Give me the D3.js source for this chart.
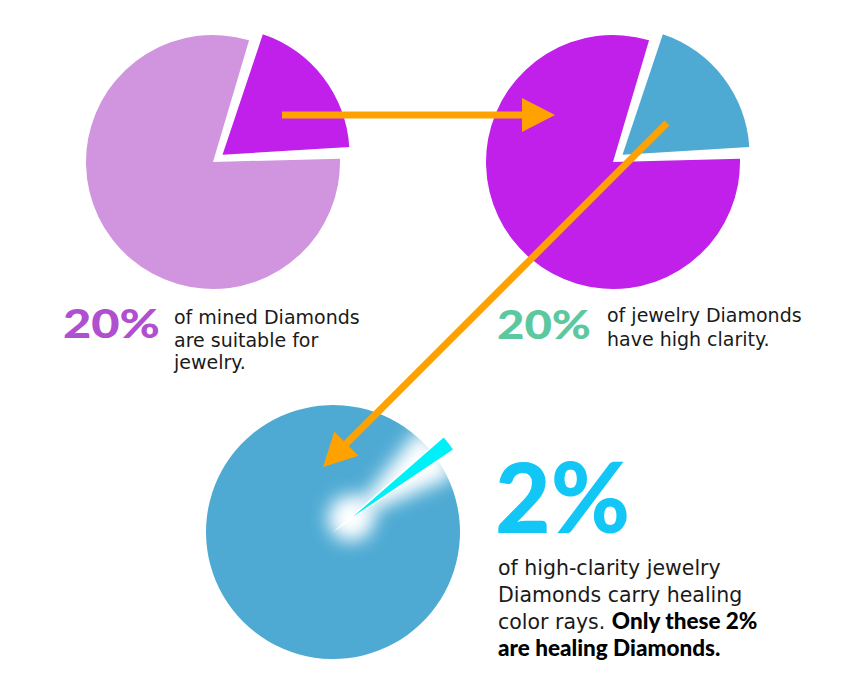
<!DOCTYPE html>
<html>
<head>
<meta charset="utf-8">
<script src="https://cdn.jsdelivr.net/npm/d3@7"></script>
<style>
  body { margin: 0; background: #fff; }
</style>
</head>
<body>
<div id="chart"></div>
<script>
// Share of each stage (percent), shown as the cut-out slice
var shares = [20, 20, 2]
var bigLabels = ['20%', '20%', '2%']
var restColors = ['#d194df', '#c020ea', '#4eaad3']
var shareColors = ['#c020ea', '#4eaad3', '#00f0f8']
var labelColors = ['#b04fd0', '#5cc8a0', '#12c6f6']

// caption lines, each a list of [text, bold]
var captions = [
  [[['of mined Diamonds', false]], [['are suitable for', false]], [['jewelry.', false]]],
  [[['of jewelry Diamonds', false]], [['have high clarity.', false]]],
  [
    [['of high-clarity jewelry', false]],
    [['Diamonds carry healing', false]],
    [['color rays. ', false], ['Only these 2%', true]],
    [['are healing Diamonds.', true]]
  ]
]

// Set window height + width
var width = 850
var height = 700
var radius = 127
var midAngle = 52.5 * Math.PI / 180

// layout of each panel
var panels = [
  { cx: 213, cy: 162, explode: 12, bigX: 63, bigY: 338, bigSize: 40, bigLen: 97, capX: 174, capY: 324, capSize: 19, lead: 22.5 },
  { cx: 613, cy: 162, explode: 12, bigX: 497, bigY: 339, bigSize: 40, bigLen: 94, capX: 607, capY: 322, capSize: 19, lead: 24 },
  { cx: 333, cy: 532, explode: 25, bigX: 495, bigY: 533, bigSize: 98, bigLen: 135, capX: 498, capY: 575, capSize: 20.5, lead: 27 }
]

var svg = d3.select('#chart')
  .append('svg')
  .attr('width', width)
  .attr('height', height)

var defs = svg.append('defs')
defs.append('filter')
  .attr('id', 'glow')
  .attr('x', '-50%').attr('y', '-50%')
  .attr('width', '200%').attr('height', '200%')
  .append('feGaussianBlur')
  .attr('stdDeviation', 9)

var arc = d3.arc().innerRadius(0).outerRadius(radius)

function pieFor (share) {
  var half = share / 100 * Math.PI
  return d3.pie()
    .sort(null)
    .startAngle(midAngle - half)
    .endAngle(midAngle - half + 2 * Math.PI)([share, 100 - share])
}

panels.forEach(function (p, i) {
  var slices = pieFor(shares[i])
  var g = svg.append('g').attr('transform', 'translate(' + p.cx + ',' + p.cy + ')')

  // the remaining part
  g.append('path')
    .attr('d', arc(slices[1]))
    .attr('fill', restColors[i])

  var dx = Math.sin(midAngle) * p.explode
  var dy = -Math.cos(midAngle) * p.explode

  if (shares[i] < 5) {
    // tiny slice gets a white glow
    var glowArc = d3.arc().innerRadius(0).outerRadius(radius * 0.95)
    g.append('path')
      .attr('d', glowArc({ startAngle: midAngle - 0.25, endAngle: midAngle + 0.25 }))
      .attr('transform', 'translate(' + dx * 0.6 + ',' + dy * 0.6 + ')')
      .attr('fill', '#fff')
      .attr('filter', 'url(#glow)')
    g.append('circle')
      .attr('cx', dx * 0.9).attr('cy', dy * 0.9)
      .attr('r', 23)
      .attr('fill', '#fff')
      .attr('filter', 'url(#glow)')
    g.append('path')
      .attr('d', d3.arc().innerRadius(0).outerRadius(radius * 0.95)(slices[0]))
      .attr('transform', 'translate(' + dx + ',' + dy + ')')
      .attr('fill', shareColors[i])
  } else {
    g.append('path')
      .attr('d', d3.arc().innerRadius(0).outerRadius(radius).padAngle(0.07)(slices[0]))
      .attr('transform', 'translate(' + dx + ',' + dy + ')')
      .attr('fill', shareColors[i])
  }

  // big percentage
  svg.append('text')
    .attr('x', p.bigX)
    .attr('y', p.bigY)
    .attr('font-family', 'Lato, sans-serif')
    .attr('font-size', p.bigSize)
    .attr('font-weight', 900)
    .attr('fill', labelColors[i])
    .attr('textLength', p.bigLen)
    .attr('lengthAdjust', 'spacingAndGlyphs')
    .text(bigLabels[i])

  // caption
  var cap = svg.append('text')
    .attr('font-family', '"DejaVu Sans", sans-serif')
    .attr('font-size', p.capSize)
    .attr('fill', '#1a1a1a')
  captions[i].forEach(function (line, k) {
    line.forEach(function (seg, s) {
      var t = cap.append('tspan')
        .text(seg[0])
      if (seg[1]) {
        t.attr('font-family', 'Lato, sans-serif')
          .attr('font-weight', 900)
          .attr('font-size', p.capSize + 2)
          .attr('fill', '#000')
      }
      if (s === 0) t.attr('x', p.capX).attr('y', p.capY + k * p.lead)
    })
  })
})

// Arrows connecting the stages
var arrowColor = '#ffa200'
var arrows = [
  { from: [panels[0].cx + 69, panels[0].cy - 47], to: [panels[1].cx - 58, panels[1].cy - 47] },
  { from: [panels[1].cx + 54, panels[1].cy - 39], to: [panels[2].cx - 10, panels[2].cy - 65] }
]
var headLen = 33
var headHalf = 17

arrows.forEach(function (a) {
  var ang = Math.atan2(a.to[1] - a.from[1], a.to[0] - a.from[0])
  var bx = a.to[0] - Math.cos(ang) * headLen
  var by = a.to[1] - Math.sin(ang) * headLen
  svg.append('line')
    .attr('x1', a.from[0]).attr('y1', a.from[1])
    .attr('x2', bx + Math.cos(ang) * 2).attr('y2', by + Math.sin(ang) * 2)
    .attr('stroke', arrowColor)
    .attr('stroke-width', 7)
  var px = -Math.sin(ang) * headHalf
  var py = Math.cos(ang) * headHalf
  svg.append('path')
    .attr('d', d3.line()([[a.to[0], a.to[1]], [bx + px, by + py], [bx - px, by - py]]) + 'Z')
    .attr('fill', arrowColor)
})
</script>
</body>
</html>
